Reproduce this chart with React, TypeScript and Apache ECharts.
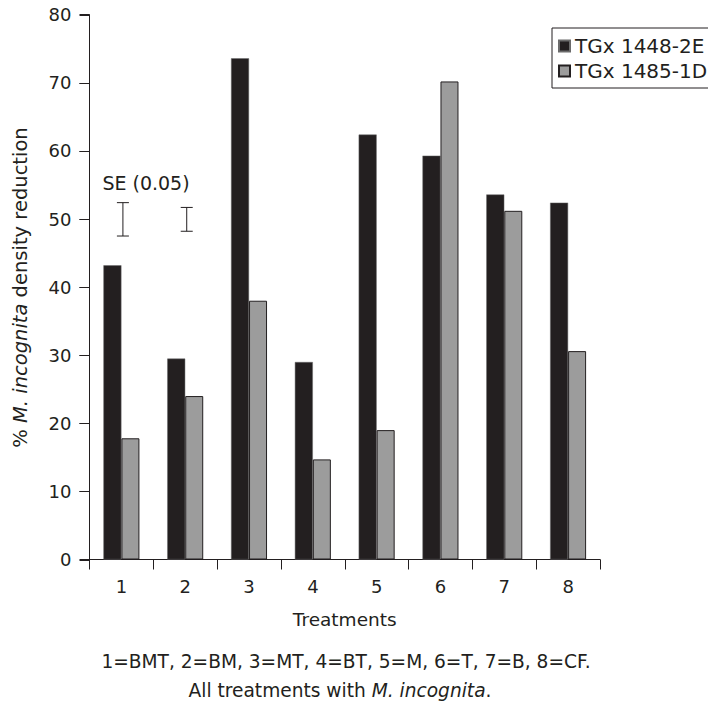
import React, { useEffect, useRef } from "react";
import * as echarts from "echarts";

const categories = ["1", "2", "3", "4", "5", "6", "7", "8"];
const seriesNames = ["TGx 1448-2E", "TGx 1485-1D"];
const valuesA = [43.2, 29.5, 73.6, 29.0, 62.4, 59.3, 53.6, 52.4];
const valuesB = [17.8, 24.0, 38.0, 14.7, 19.0, 70.2, 51.2, 30.6];
// SE (0.05) bars: [category index, low, high]
const seBars = [
  [0, 47.5, 52.4],
  [1, 48.2, 51.7],
];
const yTickValues = [0, 10, 20, 30, 40, 50, 60, 70, 80];

const FONT = "DejaVu Sans";
const INK = "#231f20";
const DARK = "#231f20";
const LIGHT = "#9c9c9c";

export default function App() {
  const ref = useRef<HTMLDivElement>(null);
  useEffect(() => {
    if (!ref.current) return;
    const chart = echarts.init(ref.current, undefined, { renderer: "svg" });
    chart.setOption({
      animation: false,
      backgroundColor: "#ffffff",
      grid: { left: 89.5, right: 108, top: 14.7, bottom: 146.5 },
      legend: {
        orient: "vertical",
        left: 552,
        top: 28,
        padding: [8, 10, 7, 6],
        itemGap: 5,
        itemWidth: 11,
        itemHeight: 11,
        icon: "rect",
        borderColor: INK,
        borderWidth: 1,
        data: seriesNames,
        textStyle: { fontFamily: FONT, fontSize: 20, color: INK, lineHeight: 20 },
      },
      xAxis: {
        type: "category",
        data: categories,
        name: "Treatments",
        nameLocation: "middle",
        nameGap: 50,
        nameTextStyle: { fontFamily: FONT, fontSize: 18.5, color: INK },
        axisLine: { show: true, lineStyle: { color: INK, width: 1 } },
        axisTick: { show: true, inside: false, alignWithLabel: false, interval: 0, length: 10, lineStyle: { color: INK, width: 1 } },
        axisLabel: { fontFamily: FONT, fontSize: 18, color: INK, margin: 18 },
      },
      yAxis: {
        type: "value",
        min: yTickValues[0],
        max: yTickValues[yTickValues.length - 1],
        interval: yTickValues[1] - yTickValues[0],
        splitLine: { show: false },
        axisLine: { show: true, lineStyle: { color: INK, width: 1 } },
        axisTick: { show: true, inside: false, length: 10, lineStyle: { color: INK, width: 1 } },
        axisLabel: { fontFamily: FONT, fontSize: 18, color: INK, margin: 18 },
      },
      series: [
        {
          name: seriesNames[0],
          type: "bar",
          data: valuesA,
          barWidth: 18,
          barGap: "0%",
          itemStyle: { color: DARK, borderColor: "#6b6b6b", borderWidth: 0.5 },
        },
        {
          name: seriesNames[1],
          type: "bar",
          data: valuesB,
          barWidth: 18,
          barGap: "0%",
          itemStyle: { color: LIGHT, borderColor: INK, borderWidth: 1 },
        },
        {
          type: "custom",
          silent: true,
          encode: { x: 0, y: [1, 2] },
          data: seBars,
          renderItem: (params: any, api: any) => {
            const x = api.value(0);
            const lo = api.coord([x, api.value(1)]);
            const hi = api.coord([x, api.value(2)]);
            const cx = lo[0] + 1.5;
            const half = 6;
            const st = { stroke: INK, lineWidth: 1 };
            return {
              type: "group",
              children: [
                { type: "line", shape: { x1: cx, y1: hi[1], x2: cx, y2: lo[1] }, style: st },
                { type: "line", shape: { x1: cx - half, y1: hi[1], x2: cx + half, y2: hi[1] }, style: st },
                { type: "line", shape: { x1: cx - half, y1: lo[1], x2: cx + half, y2: lo[1] }, style: st },
              ],
            };
          },
        },
        {
          // y-axis tick marks (outward, left of the axis line)
          type: "custom",
          silent: true,
          clip: false,
          encode: { x: 0, y: 1 },
          data: yTickValues.map((v) => [0, v]),
          renderItem: (params: any, api: any) => {
            const pt = api.coord([0, api.value(1)]);
            const x0 = params.coordSys.x;
            const y = Math.round(pt[1]) + 0.5;
            return {
              type: "line",
              shape: { x1: x0 - 10, y1: y, x2: x0, y2: y },
              style: { stroke: INK, lineWidth: 1 },
            };
          },
        },
      ],
      graphic: [
        {
          type: "text",
          x: 146,
          y: 183,
          style: {
            text: "SE (0.05)",
            fontFamily: FONT,
            fontSize: 19,
            fill: INK,
            align: "center",
            verticalAlign: "middle",
          },
        },
        {
          type: "text",
          x: 20,
          y: 287.5,
          rotation: Math.PI / 2,
          style: {
            text: "{n|% }{i|M. incognita}{n| density reduction}",
            align: "center",
            verticalAlign: "middle",
            fill: INK,
            rich: {
              n: { fontFamily: FONT, fontSize: 19.5, fill: INK, color: INK },
              i: { fontFamily: FONT, fontSize: 19.5, fontStyle: "italic", fill: INK, color: INK },
            },
          },
        },
        {
          type: "text",
          x: 346,
          y: 661,
          style: {
            text: "1=BMT, 2=BM, 3=MT, 4=BT, 5=M, 6=T, 7=B, 8=CF.",
            fontFamily: FONT,
            fontSize: 18.6,
            fill: INK,
            align: "center",
            verticalAlign: "middle",
          },
        },
        {
          type: "text",
          x: 340,
          y: 690,
          style: {
            text: "{n|All treatments with }{i|M. incognita}{n|.}",
            align: "center",
            verticalAlign: "middle",
            fill: INK,
            rich: {
              n: { fontFamily: FONT, fontSize: 18.6, fill: INK, color: INK },
              i: { fontFamily: FONT, fontSize: 18.6, fontStyle: "italic", fill: INK, color: INK },
            },
          },
        },
      ],
    });
    return () => chart.dispose();
  }, []);
  return <div ref={ref} style={{ width: 708, height: 706, position: "absolute", left: 0, top: 0 }} />;
}
